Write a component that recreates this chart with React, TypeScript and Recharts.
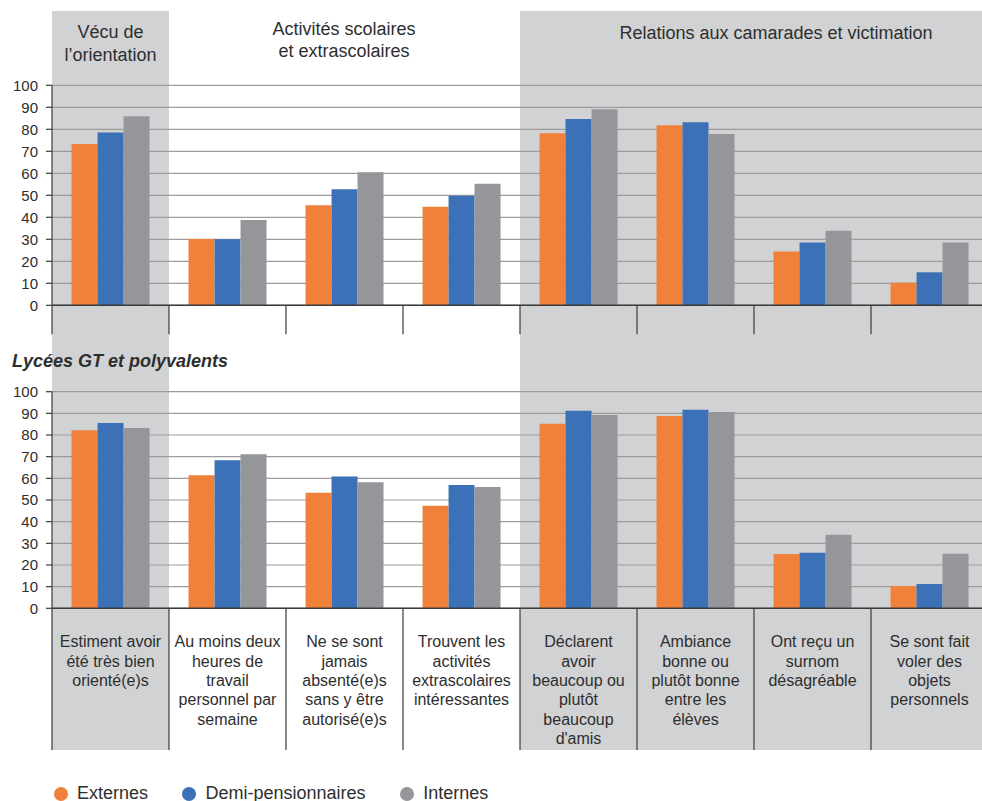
import React from "react";
import { BarChart, Bar, XAxis, YAxis, CartesianGrid, ReferenceArea, Legend } from "recharts";

const categories = [
  "Estiment avoir\nété très bien\norienté(e)s",
  "Au moins deux\nheures de\ntravail\npersonnel par\nsemaine",
  "Ne se sont\njamais\nabsenté(e)s\nsans y être\nautorisé(e)s",
  "Trouvent les\nactivités\nextrascolaires\nintéressantes",
  "Déclarent\navoir\nbeaucoup ou\nplutôt\nbeaucoup\nd'amis",
  "Ambiance\nbonne ou\nplutôt bonne\nentre les\nélèves",
  "Ont reçu un\nsurnom\ndésagréable",
  "Se sont fait\nvoler des\nobjets\npersonnels",
];
const seriesNames = ["Externes", "Demi-pensionnaires", "Internes"];

// panel 1 (no title)
const topExternes = [73.3, 30.1, 45.5, 44.8, 78.2, 81.8, 24.5, 10.3];
const topDemi = [78.6, 30.0, 52.7, 49.8, 84.7, 83.2, 28.6, 15.0];
const topInternes = [85.9, 38.8, 60.5, 55.3, 89.1, 77.9, 33.9, 28.6];

// panel 2 : Lycées GT et polyvalents
const gtExternes = [82.2, 61.4, 53.4, 47.4, 85.2, 88.8, 25.1, 10.3];
const gtDemi = [85.5, 68.3, 60.9, 56.9, 91.2, 91.7, 25.7, 11.2];
const gtInternes = [83.2, 71.1, 58.2, 56.0, 89.2, 90.6, 34.0, 25.2];

const yTicks = [0, 10, 20, 30, 40, 50, 60, 70, 80, 90, 100];
const headers = ["Vécu de\nl’orientation", "Activités scolaires\net extrascolaires", "Relations aux camarades et victimation"];
const panelTitle = "Lycées GT et polyvalents";

const COLORS = ["#F0813B", "#3C71B7", "#95969A"];
const BAND = "#D1D2D4";
const GRID = "#9C9C9C";
const AXIS = "#3A3A3A";
const TEXT = "#2E2E2E";
const FONT = "'Liberation Sans', Arial, Helvetica, sans-serif";

const CHART_W = 988;
const Y_W = 52;
const STEP = (CHART_W - Y_W) / categories.length;

// layout of the two panels
const TOP_H = 380;
const TOP_MT = 85.3;
const TOP_PLOT_H = 220;
const BOT_H = 421;
const BOT_MT = 11.7;
const BOT_PLOT_H = 216.6;
const BOT_XH = 141.7;

const makeRows = (a: number[], b: number[], c: number[]) =>
  categories.map((cat, i) => ({ cat, ext: a[i], demi: b[i], int: c[i] }));

const topData = makeRows(topExternes, topDemi, topInternes);
const gtData = makeRows(gtExternes, gtDemi, gtInternes);

function TopTick(props: any) {
  const { x, y } = props;
  const bx = x - STEP / 2;
  return <line x1={bx} x2={bx} y1={y} y2={y + 29} stroke={AXIS} strokeWidth={1.2} />;
}

function LabelTick(props: any) {
  const { x, y, payload } = props;
  const bx = x - STEP / 2;
  const lines = String(payload.value).split("\n");
  return (
    <g>
      <line x1={bx} x2={bx} y1={y} y2={y + BOT_XH} stroke={AXIS} strokeWidth={1.2} />
      {lines.map((l, i) => (
        <text key={i} x={x} y={y + 33.4 + i * 19.4} textAnchor="middle" dominantBaseline="central"
          fontSize={16} fill={TEXT}>
          {l}
        </text>
      ))}
    </g>
  );
}

function LegendContent() {
  return (
    <div style={{ display: "flex", alignItems: "center", paddingLeft: 53.5, fontSize: 18, color: TEXT, fontFamily: FONT }}>
      {seriesNames.map((n, i) => (
        <div key={n} style={{ display: "flex", alignItems: "center", marginRight: 34 }}>
          <span style={{ width: 14, height: 14, borderRadius: 7, background: COLORS[i], display: "inline-block", marginRight: 9.5 }} />
          <span>{n}</span>
        </div>
      ))}
    </div>
  );
}

function Panel({ data, height, marginTop, marginBottom, plotH, xHeight, tick, withLegend }: any) {
  const pxPerUnit = plotH / 100;
  const plotBottom = marginTop + plotH;
  const bandTop = plotBottom / pxPerUnit - (marginTop === TOP_MT ? 11 / pxPerUnit : 0);
  const bandBottom = -(height - marginBottom - plotBottom) / pxPerUnit;
  const keys = ["ext", "demi", "int"];
  return (
    <BarChart
      width={CHART_W}
      height={height}
      data={data}
      margin={{ top: marginTop, right: 0, bottom: marginBottom, left: 0 }}
      barCategoryGap="16.7%"
      barGap={0}
    >
      <ReferenceArea x1={categories[0]} x2={categories[0]} y1={bandBottom} y2={bandTop}
        fill={BAND} fillOpacity={1} stroke="none" ifOverflow="visible" zIndex={-200} />
      <ReferenceArea x1={categories[4]} x2={categories[7]} y1={bandBottom} y2={bandTop}
        fill={BAND} fillOpacity={1} stroke="none" ifOverflow="visible" zIndex={-200} />
      <CartesianGrid vertical={false} stroke={GRID} strokeWidth={1.2} />
      <XAxis dataKey="cat" height={xHeight} interval={0} tickLine={false} tickSize={0} tickMargin={0}
        axisLine={{ stroke: AXIS, strokeWidth: 1.5 }} tick={tick} />
      <YAxis width={Y_W} domain={[0, 100]} ticks={yTicks} interval={0} tickSize={6} tickMargin={8}
        axisLine={{ stroke: AXIS, strokeWidth: 1.2 }} tickLine={{ stroke: AXIS, strokeWidth: 1.2 }}
        tick={{ fontSize: 15, fill: TEXT }} />
      {keys.map((k, i) => (
        <Bar key={k} dataKey={k} name={seriesNames[i]} fill={COLORS[i]} isAnimationActive={false} />
      ))}
      {withLegend && (
        <Legend layout="vertical" align="center" verticalAlign="middle" content={<LegendContent />}
          wrapperStyle={{ top: 403, left: 0, width: 700, height: 22 }} />
      )}
    </BarChart>
  );
}

export default function App() {
  const headerPos = [
    { cx: 110.5, top: 21.3 },
    { cx: 344, top: 17.5 },
    { cx: 776, top: 21.5 },
  ];
  return (
    <div style={{ position: "absolute", left: 0, top: 0, width: 982, height: 801, overflow: "hidden", background: "#fff", fontFamily: FONT }}>
      <div style={{ position: "absolute", left: 0, top: 0 }}>
        <Panel data={topData} height={TOP_H} marginTop={TOP_MT} marginBottom={0} plotH={TOP_PLOT_H}
          xHeight={TOP_H - TOP_MT - TOP_PLOT_H} tick={<TopTick />} />
      </div>
      <div style={{ position: "absolute", left: 0, top: TOP_H }}>
        <Panel data={gtData} height={BOT_H} marginTop={BOT_MT} marginBottom={BOT_H - BOT_MT - BOT_PLOT_H - BOT_XH}
          plotH={BOT_PLOT_H} xHeight={BOT_XH} tick={<LabelTick />} withLegend />
      </div>
      {headers.map((h, i) => (
        <div key={i} style={{
          position: "absolute", left: headerPos[i].cx - 200, width: 400, top: headerPos[i].top,
          textAlign: "center", fontSize: 18, lineHeight: "22.5px", color: TEXT, whiteSpace: "pre",
        }}>
          {h}
        </div>
      ))}
      <div style={{ position: "absolute", left: 12, top: 350, fontSize: 18, lineHeight: "22px", fontWeight: "bold", fontStyle: "italic", color: TEXT }}>
        {panelTitle}
      </div>
    </div>
  );
}
